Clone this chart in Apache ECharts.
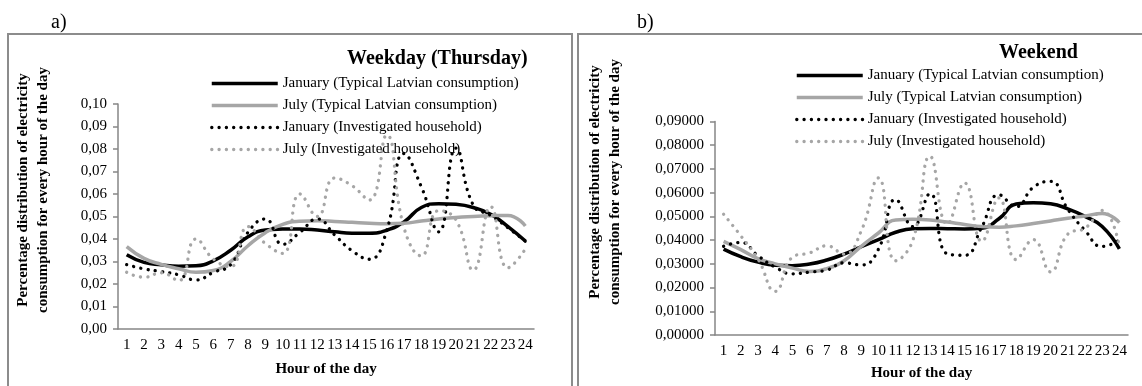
<!DOCTYPE html>
<html>
<head>
<meta charset="utf-8">
<script src="https://cdn.jsdelivr.net/npm/echarts@6/dist/echarts.min.js"></script>
<style>
html, body { margin: 0; padding: 0; background: #fff; }
#chart { width: 1142px; height: 386px; }
</style>
</head>
<body>
<div id="chart"></div>
<script>
var hours = ['1', '2', '3', '4', '5', '6', '7', '8', '9', '10', '11', '12',
  '13', '14', '15', '16', '17', '18', '19', '20', '21', '22', '23', '24'];

var names = [
  'January (Typical Latvian consumption)',
  'July (Typical Latvian consumption)',
  'January (Investigated household)',
  'July (Investigated household)'
];

// a) weekday (thursday)
var janTypA = [0.0330, 0.0296, 0.0285, 0.0279, 0.0281, 0.0303, 0.0350, 0.0410, 0.0440, 0.0444, 0.0445, 0.0440,
  0.0432, 0.0426, 0.0426, 0.0439, 0.0476, 0.0540, 0.0557, 0.0554, 0.0540, 0.0510, 0.0455, 0.0391];
var julTypA = [0.0366, 0.0314, 0.0287, 0.0268, 0.0252, 0.0260, 0.0300, 0.0370, 0.0428, 0.0465, 0.0479, 0.0481,
  0.0478, 0.0474, 0.0470, 0.0468, 0.0470, 0.0480, 0.0489, 0.0496, 0.0500, 0.0503, 0.0505, 0.0458];
var janInvA = [0.0286, 0.0267, 0.0255, 0.0241, 0.0218, 0.0252, 0.0286, 0.0430, 0.0489, 0.0376, 0.0430, 0.0489,
  0.0418, 0.0348, 0.0310, 0.0437, 0.0780, 0.0632, 0.0432, 0.0804, 0.0550, 0.0505, 0.0450, 0.0390];
var julInvA = [0.0252, 0.0230, 0.0250, 0.0215, 0.0400, 0.0311, 0.0277, 0.0455, 0.0380, 0.0336, 0.0600, 0.0500,
  0.0671, 0.0637, 0.0573, 0.0862, 0.0450, 0.0325, 0.0526, 0.0485, 0.0262, 0.0544, 0.0272, 0.0355];

// b) weekend
var janTypB = [0.0362, 0.0330, 0.0307, 0.0294, 0.0292, 0.0299, 0.0316, 0.0341, 0.0372, 0.0402, 0.0433, 0.0448,
  0.0449, 0.0448, 0.0447, 0.0450, 0.0490, 0.0552, 0.0558, 0.0553, 0.0532, 0.0500, 0.0457, 0.0363];
var julTypB = [0.0395, 0.0360, 0.0322, 0.0300, 0.0282, 0.0268, 0.0280, 0.0313, 0.0374, 0.0430, 0.0485, 0.0488,
  0.0485, 0.0476, 0.0466, 0.0457, 0.0454, 0.0460, 0.0470, 0.0481, 0.0492, 0.0502, 0.0512, 0.0474];
var janInvB = [0.0374, 0.0390, 0.0334, 0.0286, 0.0258, 0.0265, 0.0274, 0.0304, 0.0295, 0.0362, 0.0571, 0.0457,
  0.0596, 0.0342, 0.0336, 0.0455, 0.0591, 0.0541, 0.0623, 0.0648, 0.0530, 0.0441, 0.0373, 0.0400];
var julInvB = [0.0509, 0.0418, 0.0320, 0.0184, 0.0328, 0.0346, 0.0376, 0.0341, 0.0439, 0.0662, 0.0313, 0.0400,
  0.0753, 0.0468, 0.0641, 0.0395, 0.0578, 0.0318, 0.0402, 0.0266, 0.0425, 0.0450, 0.0525, 0.0372];

var serif = "'Liberation Serif', 'DejaVu Serif', serif";
var axisGray = "#868686";
var lightGray = "#a6a6a6";
var yName = "Percentage distribution of electricity\nconsumption for every hour of the day";

function xAx(idx, gap) {
  return {
    type: "category",
    gridIndex: idx,
    data: hours,
    boundaryGap: true,
    name: "Hour of the day",
    nameLocation: "middle",
    nameGap: gap,
    nameTextStyle: { fontFamily: serif, fontWeight: "bold", fontSize: 15, color: "#000" },
    axisLine: { lineStyle: { color: axisGray, width: 1.5 } },
    axisTick: { alignWithLabel: false, length: 4, lineStyle: { color: axisGray, width: 1.5 } },
    axisLabel: { interval: 0, margin: 9, fontFamily: serif, fontSize: 15, color: "#000" },
    splitLine: { show: false }
  };
}

function yAx(idx, max, digits) {
  return {
    type: "value",
    gridIndex: idx,
    min: 0,
    max: max,
    interval: 0.01,
    axisLine: { show: true, lineStyle: { color: axisGray, width: 1.5 } },
    axisTick: { show: true, length: 5, lineStyle: { color: axisGray, width: 1.5 } },
    axisLabel: {
      margin: 11, fontFamily: serif, fontSize: 15, color: "#000",
      formatter: function (v) { return v.toFixed(digits).replace(".", ","); }
    },
    splitLine: { show: false }
  };
}

function solid(name, idx, data, color) {
  return {
    name: name, type: "line", xAxisIndex: idx, yAxisIndex: idx, data: data,
    smooth: true, symbol: "none",
    itemStyle: { color: color },
    lineStyle: { color: color, width: 3.5 }
  };
}

function dotted(name, idx, data, color) {
  return {
    name: name, type: "line", xAxisIndex: idx, yAxisIndex: idx, data: data,
    smooth: true, symbol: "none",
    itemStyle: { color: color },
    lineStyle: { color: color, width: 3.3, type: [0.1, 7.2], cap: "round" }
  };
}

function legendAt(left, top) {
  return {
    left: left, top: top, orient: "vertical",
    data: names,
    itemWidth: 66, itemHeight: 14, itemGap: 7,
    itemStyle: { color: "rgba(0,0,0,0)", borderWidth: 0 },
    lineStyle: { width: "inherit" },
    textStyle: { fontFamily: serif, fontSize: 15, color: "#000" }
  };
}

var chart = echarts.init(document.getElementById("chart"));
chart.setOption({
  backgroundColor: "#fff",
  animation: false,
  title: [
    { text: "Weekday (Thursday)", left: 347, top: 49, padding: 0,
      textStyle: { fontFamily: serif, fontWeight: "bold", fontSize: 20, color: "#000" } },
    { text: "Weekend", left: 999, top: 43, padding: 0,
      textStyle: { fontFamily: serif, fontWeight: "bold", fontSize: 20, color: "#000" } }
  ],
  legend: [legendAt(205, 71), legendAt(790, 63)],
  grid: [
    { left: 118, top: 104, width: 416, height: 225 },
    { left: 715, top: 121.5, width: 413, height: 215 }
  ],
  xAxis: [xAx(0, 33), xAx(1, 31)],
  yAxis: [yAx(0, 0.1, 2), yAx(1, 0.09, 5)],
  series: [
    solid(names[0], 0, janTypA, "#000"),
    solid(names[1], 0, julTypA, lightGray),
    dotted(names[2], 0, janInvA, "#000"),
    dotted(names[3], 0, julInvA, lightGray),
    solid(names[0], 1, janTypB, "#000"),
    solid(names[1], 1, julTypB, lightGray),
    dotted(names[2], 1, janInvB, "#000"),
    dotted(names[3], 1, julInvB, lightGray)
  ],
  graphic: [
    { type: "rect", shape: { x: 8, y: 34, width: 564, height: 400 },
      style: { fill: "none", stroke: "#8c8c8c", lineWidth: 2 }, silent: true },
    { type: "rect", shape: { x: 578, y: 34, width: 600, height: 400 },
      style: { fill: "none", stroke: "#8c8c8c", lineWidth: 2 }, silent: true },
    { type: "text", x: 51, y: 13,
      style: { text: "a)", fontFamily: serif, fontSize: 20, fill: "#000" } },
    { type: "text", x: 637, y: 13,
      style: { text: "b)", fontFamily: serif, fontSize: 20, fill: "#000" } },
    { type: "text", x: 33, y: 190, rotation: Math.PI / 2,
      style: { text: yName, fontFamily: serif, fontWeight: "bold", fontSize: 15, lineHeight: 20,
        fill: "#000", align: "center", verticalAlign: "middle" } },
    { type: "text", x: 605, y: 182, rotation: Math.PI / 2,
      style: { text: yName, fontFamily: serif, fontWeight: "bold", fontSize: 15, lineHeight: 20,
        fill: "#000", align: "center", verticalAlign: "middle" } }
  ]
});
</script>
</body>
</html>
